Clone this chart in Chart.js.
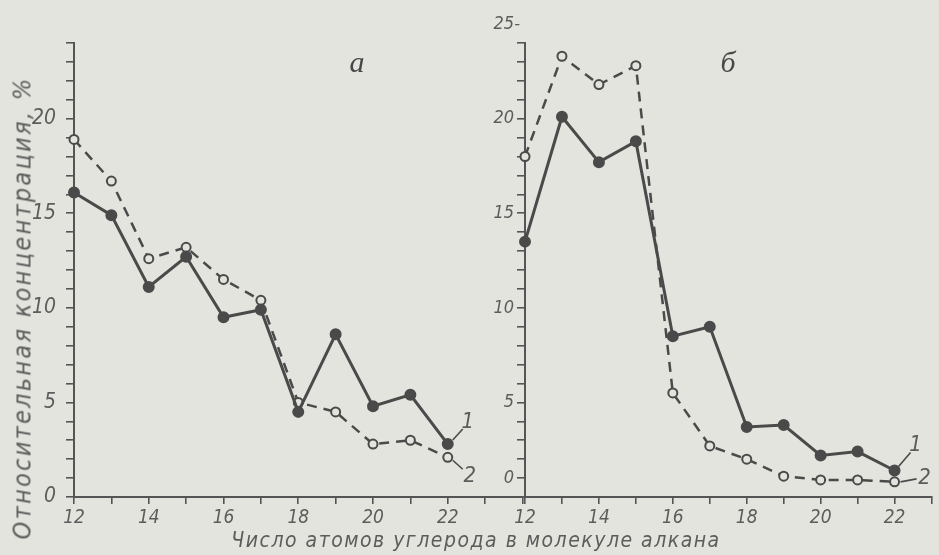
<!DOCTYPE html>
<html>
<head>
<meta charset="utf-8">
<script src="https://cdn.jsdelivr.net/npm/chart.js@4.4.0/dist/chart.umd.min.js"></script>
<style>
    body { margin: 0; background: #e4e4de; }
    #wrap {
        position: relative; width: 939px; height: 555px; overflow: hidden;
        font-family: 'Liberation Sans Narrow', 'DejaVu Sans Condensed', sans-serif;
        font-style: italic; color: #5c5c5c;
    }
    #chartA { position: absolute; left: 0; top: 0; }
    #chartB { position: absolute; left: 470px; top: 0; }
    .txt { position: absolute; white-space: nowrap; transform: translate(-50%, -50%); }
    #xTitle { left: 476px; top: 540px; font-size: 21px; letter-spacing: 1.5px; }
    #yTitle { left: 22px; top: 308px; font-size: 25px; letter-spacing: 2.3px;
              transform: translate(-50%, -50%) rotate(-90deg); }
    .panel { font-family: 'Liberation Serif', serif; font-size: 30px; color: #474747; top: 62px; }
</style>
</head>
<body>
<div id="wrap">
    <canvas id="chartA" width="530" height="555"></canvas>
    <canvas id="chartB" width="469" height="555"></canvas>
    <div class="txt panel" style="left:357px">а</div>
    <div class="txt panel" style="left:728px">б</div>
    <div class="txt" id="xTitle">Число атомов углерода в молекуле алкана</div>
    <div class="txt" id="yTitle">Относительная концентрация, %</div>
</div>
<script>
// number of carbon atoms (x)
const carbonAtoms = [12, 13, 14, 15, 16, 17, 18, 19, 20, 21, 22];

// panel "а"
const panelA_curve1 = [16.1, 14.9, 11.1, 12.7, 9.5, 9.9, 4.5, 8.6, 4.8, 5.4, 2.8];
const panelA_curve2 = [18.9, 16.7, 12.6, 13.2, 11.5, 10.4, 5.0, 4.5, 2.8, 3.0, 2.1];

// panel "б"
const panelB_curve1 = [13.5, 20.1, 17.7, 18.8, 8.5, 9.0, 3.7, 3.8, 2.2, 2.4, 1.4];
const panelB_curve2 = [18.0, 23.3, 21.8, 22.8, 5.5, 2.7, 2.0, 1.1, 0.9, 0.9, 0.8];

const lineColor = "#4a4a4a";
const axisColor = "#555555";
const textColor = "#5c5c5c";
const paper = "#e4e4de";
const fontFamily = "'Liberation Sans Narrow', 'DejaVu Sans Condensed', sans-serif";

function toPoints(values) {
    return carbonAtoms.map((c, i) => ({ x: c, y: values[i] }));
}

// labels "1" and "2" with short leader lines at the end of each curve
const seriesLabels = {
    id: "seriesLabels",
    afterDatasetsDraw(chart, args, opts) {
        const ctx = chart.ctx;
        (opts.items || []).forEach((it) => {
            const meta = chart.getDatasetMeta(it.ds);
            const pt = meta.data[meta.data.length - 1];
            ctx.save();
            ctx.strokeStyle = lineColor;
            ctx.lineWidth = 1.6;
            ctx.beginPath();
            ctx.moveTo(pt.x + it.line[0], pt.y + it.line[1]);
            ctx.lineTo(pt.x + it.line[2], pt.y + it.line[3]);
            ctx.stroke();
            ctx.font = "italic 22px " + fontFamily;
            ctx.fillStyle = textColor;
            ctx.textAlign = "center";
            ctx.textBaseline = "middle";
            ctx.fillText(chart.data.datasets[it.ds].label, pt.x + it.text[0], pt.y + it.text[1]);
            ctx.restore();
        });
    },
};

// the "25-" mark above the end of the right-hand axis
const topMark = {
    id: "topMark",
    afterDraw(chart, args, opts) {
        if (!opts.text) return;
        const y = chart.scales.y;
        const ctx = chart.ctx;
        ctx.save();
        ctx.font = "italic 18px " + fontFamily;
        ctx.fillStyle = textColor;
        ctx.textAlign = "right";
        ctx.textBaseline = "middle";
        ctx.fillText(opts.text, y.right - 5, y.getPixelForValue(opts.value));
        ctx.restore();
    },
};

function makeChart(id, curve1, curve2, cfg) {
    return new Chart(document.getElementById(id), {
        type: "line",
        data: {
            datasets: [
                {
                    label: "1",
                    data: toPoints(curve1),
                    borderColor: lineColor,
                    borderWidth: 3,
                    pointRadius: 4.5,
                    pointBackgroundColor: lineColor,
                    pointBorderColor: lineColor,
                    clip: false,
                },
                {
                    label: "2",
                    data: toPoints(curve2),
                    borderColor: lineColor,
                    borderWidth: 2.5,
                    borderDash: [10, 7],
                    pointRadius: 4.5,
                    pointBorderWidth: 2,
                    pointBackgroundColor: paper,
                    pointBorderColor: lineColor,
                    clip: false,
                },
            ],
        },
        options: {
            responsive: false,
            animation: false,
            layout: { padding: { top: 43, right: cfg.padRight, left: 0, bottom: 0 } },
            plugins: {
                legend: { display: false },
                tooltip: { enabled: false },
                seriesLabels: { items: cfg.labels },
                topMark: cfg.topMark || {},
            },
            scales: {
                x: {
                    type: "linear",
                    min: 12,
                    max: cfg.xMax,
                    afterFit: (s) => { s.height = 58; },
                    ticks: {
                        stepSize: 1,
                        autoSkip: false,
                        maxRotation: 0,
                        padding: 3,
                        color: textColor,
                        font: { family: fontFamily, size: 19, style: "italic" },
                        callback: (v) => (v % 2 === 0 && v <= 22 ? v : ""),
                    },
                    grid: { drawOnChartArea: false, tickLength: 7, color: axisColor, lineWidth: 1.6 },
                    border: { color: axisColor, width: 2 },
                },
                y: {
                    min: 0,
                    max: 24,
                    afterFit: (s) => { s.width = cfg.yWidth; },
                    ticks: {
                        stepSize: 1,
                        autoSkip: false,
                        padding: cfg.yPad,
                        color: textColor,
                        font: { family: fontFamily, size: cfg.yFont, style: "italic" },
                        callback: cfg.yLabel,
                    },
                    grid: { drawOnChartArea: false, tickLength: 8, color: axisColor, lineWidth: 1.6 },
                    border: { color: axisColor, width: 2 },
                },
            },
        },
        plugins: [seriesLabels, topMark],
    });
}

makeChart("chartA", panelA_curve1, panelA_curve2, {
    xMax: 24,
    padRight: 5,
    yWidth: 74,
    yPad: 10,
    yFont: 21,
    yLabel: (v) => (v % 5 === 0 ? v : ""),
    labels: [
        { ds: 0, line: [5, -4, 15, -15], text: [20, -22] },
        { ds: 1, line: [5, 3, 15, 12], text: [22, 19] },
    ],
});

// the right-hand axis carries its "0" one division above the baseline, as drawn
makeChart("chartB", panelB_curve1, panelB_curve2, {
    xMax: 23,
    padRight: 0,
    yWidth: 55,
    yPad: 3,
    yFont: 18,
    yLabel: (v) => (v === 1 ? "0" : v > 0 && v % 5 === 0 ? v : ""),
    topMark: { text: "25-", value: 25 },
    labels: [
        { ds: 0, line: [4, -4, 16, -18], text: [21, -25] },
        { ds: 1, line: [6, 0, 22, -3], text: [30, -4] },
    ],
});
</script>
</body>
</html>
